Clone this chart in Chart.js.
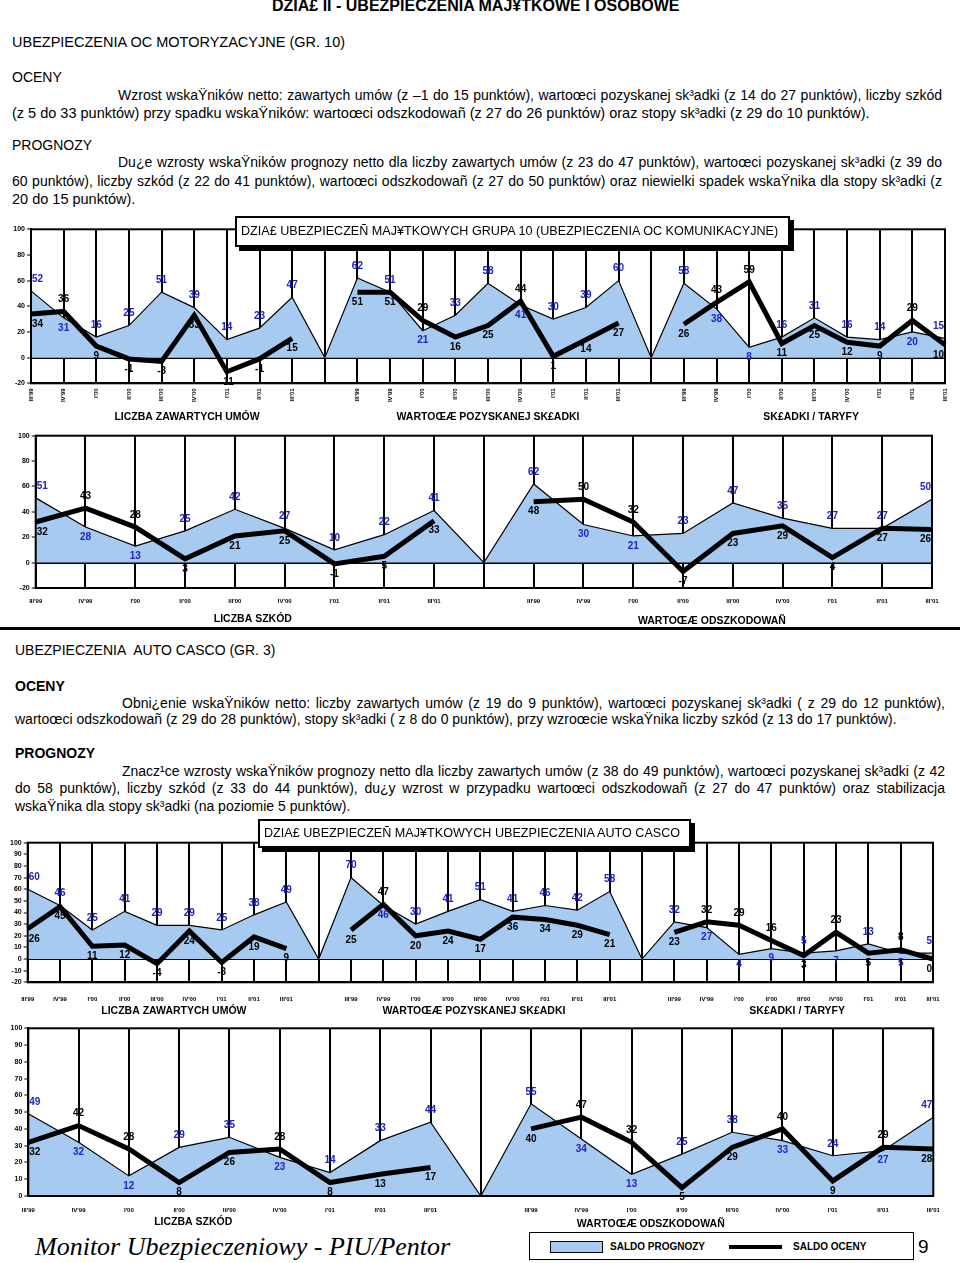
<!DOCTYPE html>
<html>
<head>
<meta charset="utf-8">
<script src="https://cdn.jsdelivr.net/npm/chart.js@4.4.1/dist/chart.umd.min.js"></script>
<style>
  body { margin:0; background:#fff; width:960px; height:1263px; position:relative; overflow:hidden;
         font-family:"Liberation Sans", Arial, sans-serif; color:#000; }
  canvas { position:absolute; left:0; }
  .t { position:absolute; font-size:14px; line-height:16px; white-space:nowrap; }
  .oc { font-size:14.5px; }
  .j { white-space:normal; text-align:justify; text-align-last:justify; }
  .b { font-weight:bold; }
  .tbox { position:absolute; background:#fff; border:2px solid #000; box-shadow:4px 4px 0 #000;
          box-sizing:border-box; font-size:12.6px; padding-left:4px; white-space:nowrap; z-index:2; }
  .leg { position:absolute; font-size:10px; font-weight:bold; line-height:12px; white-space:nowrap; }
</style>
</head>
<body>

<div class="t b" style="left:272px;top:-2px;font-size:16px;">DZIA£ II - UBEZPIECZENIA MAJ¥TKOWE I OSOBOWE</div>
<div class="t oc" style="left:12px;top:34px;">UBEZPIECZENIA OC MOTORYZACYJNE (GR. 10)</div>
<div class="t" style="left:12px;top:69px;">OCENY</div>
<div class="t j" style="left:118px;top:87px;width:824px;">Wzrost wskaŸników netto: zawartych umów (z –1 do 15 punktów), wartoœci pozyskanej sk³adki (z 14 do 27 punktów), liczby szkód</div>
<div class="t oc" style="left:12px;top:105px;">(z 5 do 33 punktów) przy spadku wskaŸników: wartoœci odszkodowañ (z 27 do 26 punktów) oraz stopy sk³adki (z 29 do 10 punktów).</div>
<div class="t" style="left:12px;top:137px;">PROGNOZY</div>
<div class="t j" style="left:118px;top:154px;width:824px;">Du¿e wzrosty wskaŸników prognozy netto dla liczby zawartych umów (z 23 do 47 punktów), wartoœci pozyskanej sk³adki (z 39 do</div>
<div class="t j" style="left:12px;top:173px;width:930px;">60 punktów), liczby szkód (z 22 do 41 punktów), wartoœci odszkodowañ (z 27 do 50 punktów) oraz niewielki spadek wskaŸnika dla stopy sk³adki (z</div>
<div class="t oc" style="left:12px;top:191px;">20 do 15 punktów).</div>

<div class="tbox" style="left:235px;top:216px;width:555px;height:31px;line-height:27px;">DZIA£ UBEZPIECZEÑ MAJ¥TKOWYCH GRUPA 10 (UBEZPIECZENIA OC KOMUNIKACYJNE)</div>
<canvas id="c1" width="960" height="212" style="top:218px"></canvas>
<canvas id="c2" width="960" height="196" style="top:430px"></canvas>
<div style="position:absolute;left:0;top:627px;width:960px;height:3px;background:#000;"></div>

<div class="t" style="left:15px;top:642px;">UBEZPIECZENIA&nbsp; AUTO CASCO (GR. 3)</div>
<div class="t b" style="left:15px;top:678px;">OCENY</div>
<div class="t j" style="left:122px;top:695px;width:823px;">Obni¿enie wskaŸników netto: liczby zawartych umów (z 19 do 9 punktów), wartoœci pozyskanej sk³adki ( z 29 do 12 punktów),</div>
<div class="t" style="left:15px;top:711px;">wartoœci odszkodowañ (z 29 do 28 punktów), stopy sk³adki ( z 8 do 0 punktów), przy wzroœcie wskaŸnika liczby szkód (z 13 do 17 punktów).</div>
<div class="t b" style="left:15px;top:745px;">PROGNOZY</div>
<div class="t j" style="left:122px;top:763px;width:823px;">Znacz¹ce wzrosty wskaŸników prognozy netto dla liczby zawartych umów (z 38 do 49 punktów), wartoœci pozyskanej sk³adki (z 42</div>
<div class="t j" style="left:15px;top:780px;width:930px;">do 58 punktów), liczby szkód (z 33 do 44 punktów), du¿y wzrost w przypadku wartoœci odszkodowañ (z 27 do 47 punktów) oraz stabilizacja</div>
<div class="t" style="left:15px;top:798px;">wskaŸnika dla stopy sk³adki (na poziomie 5 punktów).</div>

<div class="tbox" style="left:258px;top:819px;width:433px;height:29px;line-height:25px;">DZIA£ UBEZPIECZEÑ MAJ¥TKOWYCH UBEZPIECZENIA AUTO CASCO</div>
<canvas id="c3" width="960" height="190" style="top:830px"></canvas>
<canvas id="c4" width="960" height="210" style="top:1020px"></canvas>

<div style="position:absolute;left:35px;top:1231px;font-family:'Liberation Serif',serif;font-style:italic;font-size:26px;line-height:32px;white-space:nowrap;">Monitor Ubezpieczeniowy - PIU/Pentor</div>
<div style="position:absolute;left:529px;top:1232px;width:385px;height:28px;border:1.5px solid #000;box-sizing:border-box;"></div>
<div style="position:absolute;left:550px;top:1241px;width:53px;height:12px;background:#a6caf0;border:1px solid #000;box-sizing:border-box;"></div>
<div class="leg" style="left:610px;top:1241px;">SALDO PROGNOZY</div>
<div style="position:absolute;left:729px;top:1245px;width:53px;height:4px;background:#000;"></div>
<div class="leg" style="left:793px;top:1241px;">SALDO OCENY</div>
<div style="position:absolute;left:918px;top:1235px;font-size:19px;line-height:24px;">9</div>

<script>
// kwartały na osi X (każda grupa ma te same 9 kwartałów)
const QUARTERS = ["III'99", "IV'99", "I'00", "II'00", "III'00", "IV'00", "I'01", "II'01", "III'01"];

// ─── OC komunikacyjne (gr. 10) ───
const ocUmowyPrognoza   = [52, 31, 16, 25, 51, 39, 14, 23, 47];
const ocUmowyOcena      = [34, 36, 9, -1, -3, 33, -11, -1, 15];
const ocSkladkaPrognoza = [62, 51, 21, 33, 58, 41, 30, 39, 60];
const ocSkladkaOcena    = [51, 51, 29, 16, 25, 44, 1, 14, 27];
const ocTaryfyPrognoza  = [58, 38, 8, 16, 31, 16, 14, 20, 15];
const ocTaryfyOcena     = [26, 43, 59, 11, 25, 12, 9, 29, 10];
const ocSzkodyPrognoza  = [51, 28, 13, 25, 42, 27, 10, 22, 41];
const ocSzkodyOcena     = [32, 43, 28, 3, 21, 25, -1, 5, 33];
const ocOdszkPrognoza   = [62, 30, 21, 23, 47, 35, 27, 27, 50];
const ocOdszkOcena      = [48, 50, 32, -7, 23, 29, 4, 27, 26];

// ─── Auto casco (gr. 3) ───
const acUmowyPrognoza   = [60, 46, 25, 41, 29, 29, 25, 38, 49];
const acUmowyOcena      = [26, 45, 11, 12, -4, 24, -3, 19, 9];
const acSkladkaPrognoza = [70, 46, 30, 41, 51, 41, 46, 42, 58];
const acSkladkaOcena    = [25, 47, 20, 24, 17, 36, 34, 29, 21];
const acTaryfyPrognoza  = [32, 27, 4, 9, 5, 7, 13, 5, 5];
const acTaryfyOcena     = [23, 32, 29, 16, 3, 23, 5, 8, 0];
const acSzkodyPrognoza  = [49, 32, 12, 29, 35, 23, 14, 33, 44];
const acSzkodyOcena     = [32, 42, 28, 8, 26, 28, 8, 13, 17];
const acOdszkPrognoza   = [55, 34, 13, 25, 38, 33, 24, 27, 47];
const acOdszkOcena      = [40, 47, 32, 5, 29, 40, 9, 29, 28];

const FONT = '"Liberation Sans", Arial, sans-serif';
const BLUE_FILL = '#a6caf0';
const BLUE_TEXT = '#2121c9';

// grupy rozdzielone pustą kategorią (prognoza spada tam do 0, ocena przerwana)
function joinGroups(groups, gapValue) {
  const out = [];
  groups.forEach((g, i) => {
    if (i > 0) out.push(gapValue);
    out.push(...g);
  });
  return out;
}

// etykiety wartości: wyższa seria nad punktem, niższa pod
const valueLabels = {
  id: 'valueLabels',
  afterDatasetsDraw(chart) {
    const { ctx } = chart;
    const labels = chart.data.labels;
    const ocena = chart.data.datasets[0].data;
    const prog = chart.data.datasets[1].data;
    const mO = chart.getDatasetMeta(0), mP = chart.getDatasetMeta(1);
    const last = labels.length - 1;
    ctx.save();
    ctx.font = 'bold 10px ' + FONT;
    ctx.textBaseline = 'middle';
    labels.forEach((lab, i) => {
      if (lab === '') return;
      ctx.textAlign = i === 0 ? 'left' : (i === last ? 'right' : 'center');
      const dx = i === 0 ? 1 : (i === last ? -1 : 0);
      const pUp = ocena[i] === null || prog[i] >= ocena[i];
      const pp = mP.data[i];
      ctx.fillStyle = BLUE_TEXT;
      ctx.fillText(String(prog[i]), pp.x + dx, pp.y + (pUp ? -12 : 10));
      if (ocena[i] !== null) {
        const po = mO.data[i];
        ctx.fillStyle = '#000';
        ctx.fillText(String(ocena[i]), po.x + dx, po.y + (pUp ? 10 : -12));
      }
    });
    ctx.restore();
  },
  afterDraw(chart) {
    const { ctx, chartArea: a } = chart;
    const x = chart.scales.x;
    const o = chart.options.plugins.valueLabels;
    ctx.save();
    ctx.strokeStyle = '#000';
    ctx.lineWidth = 2;
    ctx.strokeRect(a.left, a.top, a.right - a.left, a.bottom - a.top);
    ctx.fillStyle = '#000';
    ctx.font = 'bold 10.5px ' + FONT;
    ctx.textAlign = 'center';
    ctx.textBaseline = 'middle';
    o.titles.forEach(([text, at, dy]) => {
      ctx.fillText(text, x.getPixelForValue(at), a.bottom + dy);
    });
    ctx.restore();
  }
};

function panel(p) {
  const labels = joinGroups(p.prognoza.map(() => QUARTERS), '');
  const prog = joinGroups(p.prognoza, 0);
  const ocena = joinGroups(p.ocena, null);
  const canvas = document.getElementById(p.id);
  const H = canvas.height;
  new Chart(canvas, {
    type: 'line',
    data: {
      labels,
      datasets: [
        { label: 'SALDO OCENY', data: ocena, borderColor: '#000', borderWidth: 5,
          fill: false, pointRadius: 0, spanGaps: false, tension: 0, order: 1 },
        { label: 'SALDO PROGNOZY', data: prog, borderColor: '#000', borderWidth: 1.2,
          backgroundColor: BLUE_FILL, fill: 'origin', pointRadius: 0, tension: 0, order: 2 }
      ]
    },
    options: {
      responsive: false,
      animation: false,
      layout: { padding: { left: p.plot.l - p.yw, right: 960 - p.plot.r, top: p.plot.t - p.top, bottom: 0 } },
      plugins: {
        legend: { display: false },
        tooltip: { enabled: false },
        valueLabels: { titles: p.titles }
      },
      scales: {
        x: {
          type: 'category', offset: false, z: 1,
          grid: { color: '#000', lineWidth: 2, drawTicks: false },
          border: { display: true, color: '#000', width: 2 },
          ticks: { autoSkip: false, padding: p.xPad, minRotation: p.rot, maxRotation: p.rot,
                   color: '#000', font: { family: FONT, size: 6, weight: 'bold' } },
          afterFit: s => { s.height = p.top + H - p.plot.b; s.paddingLeft = 0; s.paddingRight = 0; }
        },
        y: {
          min: p.yMin, max: p.yMax, z: 1,
          grid: { color: c => c.tick.value === 0 ? '#000' : 'rgba(0,0,0,0)', lineWidth: 2,
                  tickColor: '#000', tickLength: 4, tickWidth: 1 },
          border: { display: true, color: '#000', width: 2 },
          ticks: { stepSize: p.yStep, padding: 2, color: '#000', font: { family: FONT, size: 7, weight: 'bold' } },
          afterFit: s => { s.width = p.yw; s.paddingTop = 0; s.paddingBottom = 0; }
        }
      }
    },
    plugins: [valueLabels]
  });
}

panel({ id: 'c1', top: 218, plot: { l: 31, r: 945, t: 229.3, b: 383.3 }, yw: 24,
  yMin: -20, yMax: 100, yStep: 20, rot: 90, xPad: 5,
  prognoza: [ocUmowyPrognoza, ocSkladkaPrognoza, ocTaryfyPrognoza],
  ocena: [ocUmowyOcena, ocSkladkaOcena, ocTaryfyOcena],
  titles: [['LICZBA ZAWARTYCH UMÓW', 4.78, 34], ['WARTOŒÆ POZYSKANEJ SK£ADKI', 14.0, 34], ['SK£ADKI / TARYFY', 23.9, 34]] });

panel({ id: 'c2', top: 430, plot: { l: 35.7, r: 932, t: 435.7, b: 588 }, yw: 28,
  yMin: -20, yMax: 100, yStep: 20, rot: 0, xPad: 10,
  prognoza: [ocSzkodyPrognoza, ocOdszkPrognoza],
  ocena: [ocSzkodyOcena, ocOdszkOcena],
  titles: [['LICZBA SZKÓD', 4.36, 31], ['WARTOŒÆ ODSZKODOWAÑ', 13.58, 33]] });

panel({ id: 'c3', top: 830, plot: { l: 27.7, r: 933, t: 842.7, b: 982.3 }, yw: 24,
  yMin: -20, yMax: 100, yStep: 10, rot: 0, xPad: 13,
  prognoza: [acUmowyPrognoza, acSkladkaPrognoza, acTaryfyPrognoza],
  ocena: [acUmowyOcena, acSkladkaOcena, acTaryfyOcena],
  titles: [['LICZBA ZAWARTYCH UMÓW', 4.52, 29], ['WARTOŒÆ POZYSKANEJ SK£ADKI', 13.8, 29], ['SK£ADKI / TARYFY', 23.8, 29]] });

panel({ id: 'c4', top: 1020, plot: { l: 28.3, r: 933.3, t: 1028.3, b: 1196 }, yw: 24,
  yMin: 0, yMax: 100, yStep: 10, rot: 0, xPad: 11,
  prognoza: [acSzkodyPrognoza, acOdszkPrognoza],
  ocena: [acSzkodyOcena, acOdszkOcena],
  titles: [['LICZBA SZKÓD', 3.28, 26], ['WARTOŒÆ ODSZKODOWAÑ', 12.38, 28]] });
</script>
</body>
</html>
